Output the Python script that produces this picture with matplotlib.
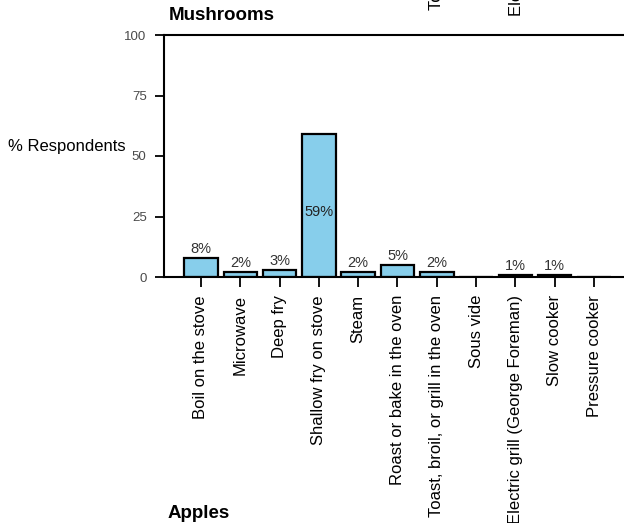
import matplotlib
matplotlib.use("Agg")
import matplotlib.pyplot as plt

plt.rcParams['font.family'] = ['Liberation Sans', 'DejaVu Sans']

categories = ["Boil on the stove", "Microwave", "Deep fry", "Shallow fry on stove",
              "Steam", "Roast or bake in the oven", "Toast, broil, or grill in the oven",
              "Sous vide", "Electric grill (George Foreman)", "Slow cooker", "Pressure cooker"]
values = [8, 2, 3, 59, 2, 5, 2, 0, 1, 1, 0]
labels = ["8%", "2%", "3%", "59%", "2%", "5%", "2%", "", "1%", "1%", ""]
yticks = [0, 25, 50, 75, 100]

W, H = 624, 523
fig = plt.figure(figsize=(W / 100, H / 100), dpi=100)

x0, x1 = 164, 653
y_top, y_bot = 35, 277
ax = fig.add_axes([x0 / W, (H - y_bot) / H, (x1 - x0) / W, (y_bot - y_top) / H])

xs = list(range(len(categories)))
ax.bar(xs, values, width=0.85, color="#87CEEB", edgecolor="black", linewidth=1.6, zorder=2)

for xi, v, lab in zip(xs, values, labels):
    if not lab:
        continue
    if v > 40:
        ax.text(xi, 27, lab, ha="center", va="center", fontsize=10.5, color="#222222", zorder=3)
    else:
        ax.annotate(lab, (xi, v), xytext=(0, 1.2), textcoords="offset points",
                    ha="center", va="bottom", fontsize=10.5, color="#333333", zorder=3)

ax.set_xlim(-0.94, 11.5)
ax.set_ylim(0, 100)
ax.set_yticks(yticks)
ax.set_yticklabels([str(t) for t in yticks], fontsize=9.5, color="#4a4a4a")
ax.set_xticks(xs)
ax.set_xticklabels(categories, rotation=90, fontsize=12, va="top", ha="center")
ax.tick_params(axis="x", direction="out", length=7, width=1.3, pad=6, colors="black")
ax.tick_params(axis="y", direction="out", length=6.5, width=1.3, pad=6)

for s in ["left", "bottom", "top"]:
    ax.spines[s].set_linewidth(1.5)
    ax.spines[s].set_color("black")
ax.spines["right"].set_visible(False)

fig.text(8 / W, 1 - 147 / H, "% Respondents", ha="left", va="center", fontsize=12)
fig.text(169 / W, 1 - 15 / H, "Mushrooms", ha="left", va="center", fontsize=13.5, weight="bold")
fig.text(168 / W, 1 - 514 / H, "Apples", ha="left", va="center", fontsize=13.5, weight="bold")

# clipped tick labels of the panel above (only their ends are visible)
fig.text(437 / W, 1 - 10 / H, "Toast, broil, or grill in the oven", rotation=90,
         ha="center", va="bottom", fontsize=12)
fig.text(516 / W, 1 - 16 / H, "Electric grill (George Foreman)", rotation=90,
         ha="center", va="bottom", fontsize=12)

fig.savefig("out.png", dpi=100)
